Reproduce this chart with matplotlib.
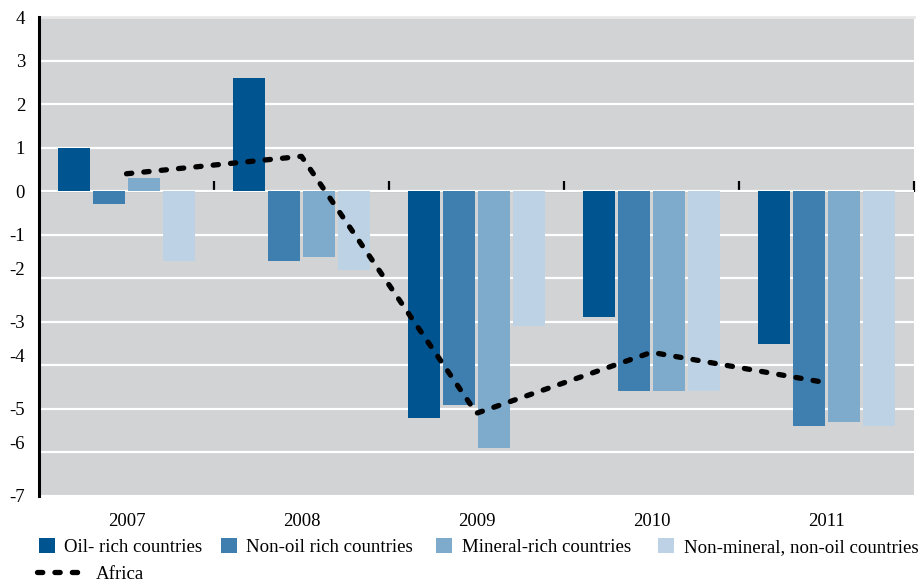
import numpy as np
import matplotlib
matplotlib.use("Agg")
import matplotlib.pyplot as plt
from matplotlib.lines import Line2D
from matplotlib.patches import Patch
import matplotlib.transforms as mtransforms

plt.rcParams['font.family'] = ['Liberation Serif', 'DejaVu Serif']
plt.rcParams['axes.unicode_minus'] = False

# data
years = ['2007', '2008', '2009', '2010', '2011']
oil_rich = [1.0, 2.6, -5.2, -2.9, -3.5]
non_oil_rich = [-0.3, -1.6, -4.9, -4.6, -5.4]
mineral_rich = [0.3, -1.5, -5.9, -4.6, -5.3]
non_mineral = [-1.6, -1.8, -3.1, -4.6, -5.4]
africa = [0.4, 0.8, -5.1, -3.7, -4.4]

series_names = ['Oil- rich countries', 'Non-oil rich countries',
                'Mineral-rich countries', 'Non-mineral, non-oil countries']
colors = ['#00548f', '#3f7fb0', '#7eaacb', '#bdd3e5']

fig = plt.figure(figsize=(9.19, 5.81), dpi=100)
ax = fig.add_axes([39 / 919, 1 - 496 / 581, 875 / 919, 479 / 581])
ax.set_facecolor('#d2d3d5')

x = np.arange(len(years)) + 0.5
offsets = [-0.3, -0.1, 0.1, 0.3]
width = 0.183
all_series = [oil_rich, non_oil_rich, mineral_rich, non_mineral]
for vals, off, col in zip(all_series, offsets, colors):
    ax.bar(x + off, vals, width=width, color=col, zorder=3)

dash = (0, (1.0, 2.3))
ax.plot(x, africa, color='black', lw=3.8, linestyle=dash,
        dash_capstyle='round', zorder=4)

ax.set_xlim(0, 5)
ax.set_ylim(-7, 4)
ax.set_yticks(range(-7, 5))
ax.grid(axis='y', color='white', lw=1.6, zorder=1)
ax.set_axisbelow(True)

for s in ['top', 'right', 'bottom']:
    ax.spines[s].set_visible(False)
ax.spines['left'].set_color('black')
ax.spines['left'].set_linewidth(2.2)
ax.axhline(4, color='#e8e8e8', lw=2, zorder=2, clip_on=False)

ax.tick_params(axis='y', length=0, pad=10, labelsize=13.5)
ax.set_xticks(x)
ax.set_xticklabels(years)
ax.tick_params(axis='x', length=0, pad=12, labelsize=13.5)

# some y labels sit above their gridlines in the original
for lab, v in zip(ax.get_yticklabels(), range(-7, 5)):
    if v in (-2, -4, -6):
        lab.set_transform(lab.get_transform() + mtransforms.ScaledTranslation(0, 10 / 100, fig.dpi_scale_trans))

# category boundary ticks on the zero line
sec = ax.secondary_xaxis(7 / 11)
sec.set_xticks([1, 2, 3, 4, 5])
sec.set_xticklabels([])
sec.tick_params(axis='x', direction='out', length=7, width=1.6, color='black')
sec.spines['bottom'].set_visible(False)

# legend entries, one per slot as in the original layout
legend_x = [39, 221, 436, 658]
for name, col, lx in zip(series_names, colors, legend_x):
    fig.legend([Patch(facecolor=col, edgecolor='none')], [name], loc='center left',
               bbox_to_anchor=(lx / 919, 1 - 547 / 581), frameon=False,
               fontsize=13.6, borderpad=0, borderaxespad=0, handlelength=0.85,
               handleheight=0.85, handletextpad=0.5)
fig.legend([Line2D([0], [0], color='black', lw=3.8, linestyle=dash,
                   dash_capstyle='round')], ['Africa'], loc='center left',
           bbox_to_anchor=(37 / 919, 1 - 574 / 581), frameon=False, fontsize=13.6,
           borderpad=0, borderaxespad=0, handlelength=2.65, handletextpad=0.45)

fig.savefig('out.png', dpi=100)
